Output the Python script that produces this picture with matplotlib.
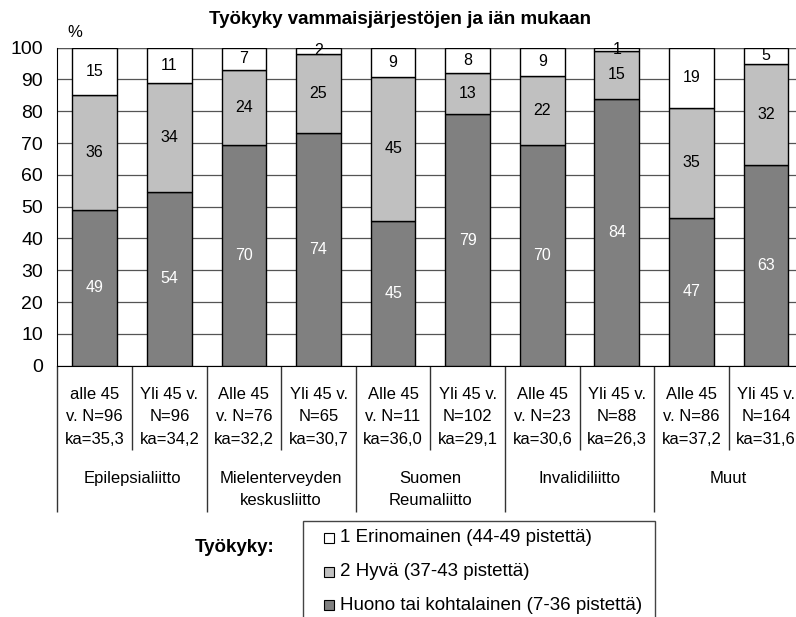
import matplotlib.pyplot as plt
from matplotlib.patches import Rectangle

plt.rcParams['font.family'] = ['Liberation Sans', 'DejaVu Sans']

# data
groups = ["Epilepsialiitto", "Mielenterveyden\nkeskusliitto", "Suomen\nReumaliitto",
          "Invalidiliitto", "Muut"]
bar_labels = ["alle 45\nv. N=96\nka=35,3", "Yli 45 v.\nN=96\nka=34,2",
              "Alle 45\nv. N=76\nka=32,2", "Yli 45 v.\nN=65\nka=30,7",
              "Alle 45\nv. N=11\nka=36,0", "Yli 45 v.\nN=102\nka=29,1",
              "Alle 45\nv. N=23\nka=30,6", "Yli 45 v.\nN=88\nka=26,3",
              "Alle 45\nv. N=86\nka=37,2", "Yli 45 v.\nN=164\nka=31,6"]
huono = [49, 54, 70, 74, 45, 79, 70, 84, 47, 63]
hyva = [36, 34, 24, 25, 45, 13, 22, 15, 35, 32]
erinomainen = [15, 11, 7, 2, 9, 8, 9, 1, 19, 5]
series_names = ["1 Erinomainen (44-49 pistettä)", "2 Hyvä (37-43 pistettä)",
                "Huono tai kohtalainen (7-36 pistettä)"]
colors = ["white", "#c0c0c0", "#808080"]

# 100 % stacked: scale each column to a total of 100
totals = [a + b + c for a, b, c in zip(huono, hyva, erinomainen)]
h1 = [v / t * 100 for v, t in zip(huono, totals)]
h2 = [v / t * 100 for v, t in zip(hyva, totals)]
h3 = [v / t * 100 for v, t in zip(erinomainen, totals)]
bot3 = [a + b for a, b in zip(h1, h2)]

fig = plt.figure(figsize=(7.96, 6.17), dpi=100)
ax = fig.add_axes([0.0722, 0.4073, 0.937, 0.5154])

x = list(range(len(huono)))
w = 0.6
ax.bar(x, h1, w, color=colors[2], edgecolor="black", linewidth=1, zorder=3)
ax.bar(x, h2, w, bottom=h1, color=colors[1], edgecolor="black", linewidth=1, zorder=3)
ax.bar(x, h3, w, bottom=bot3, color=colors[0], edgecolor="black", linewidth=1, zorder=3)

for i in x:
    ax.text(i, h1[i] / 2, str(huono[i]), ha="center", va="center",
            color="white", fontsize=11.5, zorder=4)
    ax.text(i, h1[i] + h2[i] / 2, str(hyva[i]), ha="center", va="center",
            color="black", fontsize=11.5, zorder=4)
    ax.text(i, bot3[i] + h3[i] / 2, str(erinomainen[i]), ha="center",
            va="center", color="black", fontsize=11.5, zorder=4, clip_on=False)

ax.set_xlim(-0.5, 9.5)
ax.set_ylim(0, 100)
ax.set_yticks(range(0, 101, 10))
ax.tick_params(axis="y", length=0, labelsize=14, pad=10.5)
ax.set_xticks([])
ax.grid(axis="y", color="#555555", linewidth=0.9, zorder=0)
for s in ["top", "right"]:
    ax.spines[s].set_visible(False)
ax.axhline(100, color="#555555", linewidth=0.9, zorder=0)

# category table below the axis
tr = ax.get_xaxis_transform()
for i in x:
    ax.text(i, -0.066, bar_labels[i], transform=tr, ha="center", va="top",
            fontsize=12, linespacing=1.65)
for g, name in enumerate(groups):
    ax.text(2 * g + 0.5, -0.33, name, transform=tr, ha="center", va="top",
            fontsize=12, linespacing=1.65)
ax.vlines([0.5, 2.5, 4.5, 6.5, 8.5], -0.265, 0, transform=tr, color="#333333",
          linewidth=1, clip_on=False)
ax.vlines([-0.5, 1.5, 3.5, 5.5, 7.5, 9.5], -0.46, 0, transform=tr, color="#333333",
          linewidth=1, clip_on=False)

fig.text(0.5025, 0.9676, "Työkyky vammaisjärjestöjen ja iän mukaan", ha="center",
         va="center", fontsize=13.5, fontweight="bold")
fig.text(0.094, 0.947, "%", ha="center", va="center", fontsize=12)
fig.text(0.295, 0.113, "Työkyky:", ha="center", va="center", fontsize=13.5,
         fontweight="bold")

# legend box, drawn by hand (its lower edge runs off the figure)
W, H = 796, 617
fig.patches.append(Rectangle((303 / W, -0.05), (655 - 303) / W, 0.05 + 1 - 521 / H,
                             transform=fig.transFigure, facecolor="white",
                             edgecolor="#444444", linewidth=1))
rows_y = [538, 572, 605]
for name, col, yy in zip(series_names, colors, rows_y):
    fig.patches.append(Rectangle((324 / W, 1 - (yy + 5) / H), 10 / W, 10 / H,
                                 transform=fig.transFigure, facecolor=col,
                                 edgecolor="black", linewidth=0.8))
    fig.text(340 / W, 1 - yy / H, name, ha="left", va="center", fontsize=13.5)

plt.savefig("out.png", dpi=100)
plt.close()
